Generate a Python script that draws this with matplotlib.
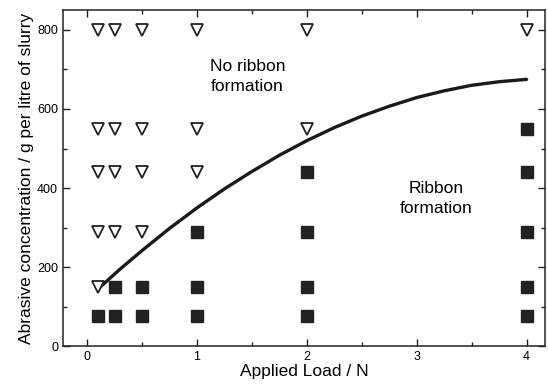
import numpy as np
import matplotlib
matplotlib.use('Agg')
import matplotlib.pyplot as plt
from matplotlib.ticker import MultipleLocator

plt.rcParams['font.family'] = ['Liberation Sans', 'DejaVu Sans']

# no ribbon formation (open triangles)
no_x = [0.1, 0.1, 0.1, 0.1, 0.1,
        0.25, 0.25, 0.25, 0.25,
        0.5, 0.5, 0.5, 0.5,
        1, 1, 1,
        2, 2,
        4]
no_y = [800, 550, 440, 290, 150,
        800, 550, 440, 290,
        800, 550, 440, 290,
        800, 550, 440,
        800, 550,
        800]

# ribbon formation (filled squares)
rib_x = [0.1,
         0.25, 0.25,
         0.5, 0.5,
         1, 1, 1,
         2, 2, 2, 2,
         4, 4, 4, 4, 4]
rib_y = [75,
         150, 75,
         150, 75,
         290, 150, 75,
         440, 290, 150, 75,
         550, 440, 290, 150, 75]

# boundary curve
curve_x = [0.1, 0.3, 0.5, 0.75, 1.0, 1.25, 1.5, 1.75, 2.0, 2.25, 2.5, 2.75, 3.0, 3.25, 3.5, 3.75, 4.0]
curve_y = [145, 195, 242, 298, 350, 398, 442, 483, 520, 553, 582, 607, 629, 646, 660, 669, 675]

fig = plt.figure(figsize=(5.48, 3.92), dpi=100)
ax = fig.add_axes([0.115, 0.117, 0.880, 0.857])

ax.plot(curve_x, curve_y, color='#1a1a1a', lw=2.4, solid_capstyle='round', zorder=2)
ax.plot(no_x, no_y, linestyle='none', marker='v', ms=9, mfc='white', mec='#222222', mew=1.3, zorder=3)
ax.plot(rib_x, rib_y, linestyle='none', marker='s', ms=8, mfc='#222222', mec='#222222', zorder=3)

ax.set_xlim(-0.22, 4.17)
ax.set_ylim(0, 850)
ax.xaxis.set_major_locator(MultipleLocator(1))
ax.xaxis.set_minor_locator(MultipleLocator(0.5))
ax.yaxis.set_major_locator(MultipleLocator(200))
ax.yaxis.set_minor_locator(MultipleLocator(100))
ax.tick_params(which='both', direction='in', top=True, right=True, labelsize=9, color='#222222')
ax.tick_params(which='major', length=5, width=1)
ax.tick_params(which='minor', length=3, width=1)
for s in ax.spines.values():
    s.set_linewidth(1.1)
    s.set_color('#222222')

ax.text(1.46, 683, 'No ribbon\nformation', ha='center', va='center', fontsize=12.5, linespacing=1.4)
ax.text(3.18, 374, 'Ribbon\nformation', ha='center', va='center', fontsize=12.5, linespacing=1.4)

ax.set_xlabel('Applied Load / N', fontsize=12.5, labelpad=1)
ax.set_ylabel('Abrasive concentration / g per litre of slurry', fontsize=12.5, labelpad=2)

fig.savefig('out.png', dpi=100)
